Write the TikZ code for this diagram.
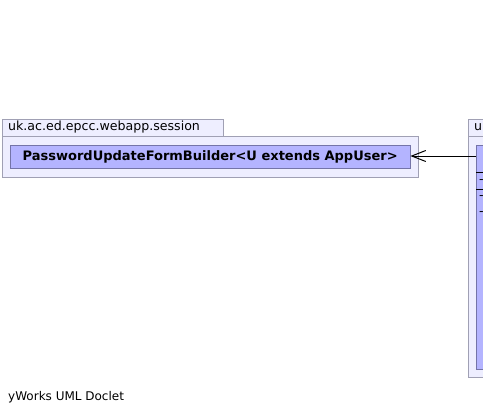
\documentclass[tikz,border=0pt]{standalone}
\usepackage{fontspec}
\setmainfont{DejaVu Sans}
\usepackage{xcolor}
\usepackage{tikz}
\usetikzlibrary{arrows.meta,positioning}
\definecolor{pkgfill}{HTML}{EEEEFF}
\definecolor{pkgline}{HTML}{A0A0B4}
\definecolor{clsfill}{HTML}{B4B4FF}
\definecolor{clsline}{HTML}{7474A8}

\begin{document}
\begin{tikzpicture}[x=1pt,y=-1pt,font=\fontsize{12.6}{14}\selectfont,
    pkgtab/.style={draw=pkgline,fill=pkgfill,anchor=north west,inner sep=0pt,
      minimum height=17pt},
    pkgbody/.style={draw=pkgline,fill=pkgfill,anchor=north west,inner sep=0pt},
    clsbox/.style={draw=clsline,fill=clsfill,anchor=north west,inner sep=0pt},
    member/.style={anchor=west,inner sep=0pt,text height=6pt,text depth=0pt},
    dep/.style={-{Straight Barb[length=14pt,width=11pt]},line width=1pt}]
  \clip (0,0) rectangle (483,415);
  % left package
  \node[pkgtab,minimum width=221pt] (sesstab) at (2,119) {};
  \node[anchor=west,inner sep=0pt] (sesslabel) at (8,127.5) {uk.ac.ed.epcc.webapp.session};
  \node[pkgbody,minimum width=416pt,minimum height=41pt] (sess) at (2,135.5) {};
  \node[clsbox,minimum width=400pt,minimum height=23pt,font=\fontsize{13}{14}\selectfont\bfseries]
    (builder) at (10,145) {PasswordUpdateFormBuilder<U extends AppUser>};
  % right package
  \node[pkgtab,minimum width=230pt] (usertab) at (468,119) {};
  \node[anchor=west,inner sep=0pt] (userlabel) at (474,127.5) {u};
  \node[pkgbody,minimum width=260pt,minimum height=241.5pt] (userpkg) at (468,135.5) {};
  \node[clsbox,minimum width=240pt,minimum height=224pt] (user) at (476,145) {};
  \draw (476,172) -- ++(240,0);
  \draw (476,189) -- ++(240,0);
  \node[member] (m1) at (479,180) {-};
  \node[member] (m2) at (479,196) {-};
  \node[member] (m3) at (479,212) {-};
  % dependency
  \coordinate (depfrom) at (476,156);
  \coordinate (depto) at (builder.east |- depfrom);
  \draw[dep] (depfrom) -- (depto);
  % footer
  \node[anchor=west,inner sep=0pt,font=\fontsize{12}{14}\selectfont] (footer) at (8,397) {yWorks UML Doclet};
\end{tikzpicture}
\end{document}
